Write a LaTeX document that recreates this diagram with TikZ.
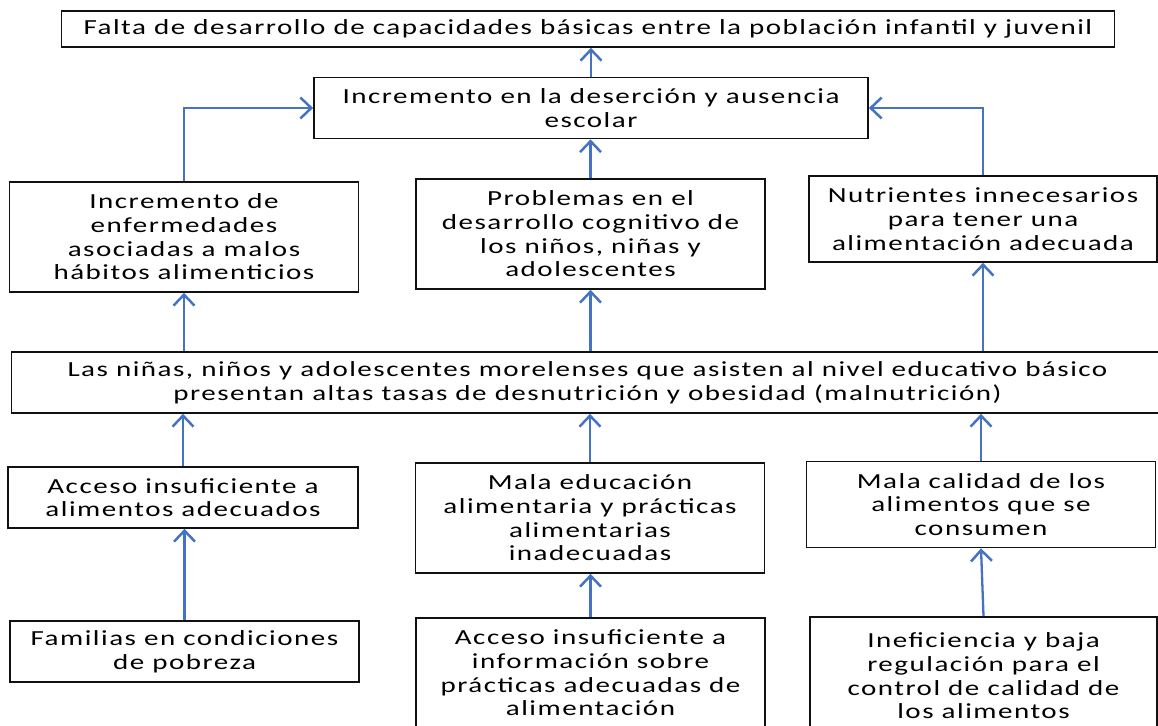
\documentclass[tikz,border=0pt]{standalone}
\usepackage{fontspec}
\setmainfont{Carlito}[FakeStretch=1.35,LetterSpace=7]
\usepackage{tikz}
\usetikzlibrary{arrows.meta,positioning,calc}
\definecolor{Ink}{HTML}{111111}
\definecolor{Azul}{HTML}{4472C4}

\begin{document}
\begin{tikzpicture}[x=1pt,y=-1pt,
    every node/.style={align=center,font=\fontsize{21.5}{23.7}\selectfont},
    caja/.style={draw=Ink,line width=1.7pt,fill=white,inner sep=0pt},
    flecha/.style={-{Straight Barb[length=11pt,width=21pt,line width=2.5pt]},line width=2.3pt,Azul}]
      \useasboundingbox (0,0) rectangle (1158,725);

      % fila superior
      \node[caja,minimum width=1053pt,minimum height=36pt] (falta) at (588,29) {Falta de desarrollo de capacidades básicas entre la población infantil y juvenil};
      \node[caja,minimum width=554pt,minimum height=61pt] (desercion) at (591,108) {Incremento en la deserción y ausencia\\escolar};

      % efectos
      \node[caja,minimum width=349pt,minimum height=110pt] (enfermedades) at (184,237) {Incremento de\\enfermedades\\asociadas a malos\\hábitos alimenticios};
      \node[caja,minimum width=349pt,minimum height=110pt] (cognitivo) at (590.5,234) {Problemas en el\\desarrollo cognitivo de\\los niños, niñas y\\adolescentes};
      \node[caja,minimum width=348pt,minimum height=86pt] (nutrientes) at (983,219) {Nutrientes innecesarios\\para tener una\\alimentación adecuada};

      % problema central
      \node[caja,minimum width=1152pt,minimum height=61pt] (malnutricion) at (587.5,382.5) {Las niñas, niños y adolescentes morelenses que asisten al nivel educativo básico\\presentan altas tasas de desnutrición y obesidad (malnutrición)};

      % causas
      \node[caja,minimum width=350pt,minimum height=61pt] (acceso) at (183,497.5) {Acceso insuficiente a\\alimentos adecuados};
      \node[caja,minimum width=349pt,minimum height=110pt] (educacion) at (590,518) {Mala educación\\alimentaria y prácticas\\alimentarias\\inadecuadas};
      \node[caja,minimum width=349pt,minimum height=86pt] (calidad) at (981,504.5) {Mala calidad de los\\alimentos que se\\consumen};

      \node[caja,minimum width=349pt,minimum height=61pt] (pobreza) at (184.5,651.5) {Familias en condiciones\\de pobreza};
      \node[caja,minimum width=349pt,minimum height=110pt] (informacion) at (590.5,673) {Acceso insuficiente a\\información sobre\\prácticas adecuadas de\\alimentación};
      \node[caja,minimum width=347pt,minimum height=118pt] (ineficiencia) at (983.5,676) {Ineficiencia y baja\\regulación para el\\control de calidad de\\los alimentos};

      % flechas
      \draw[flecha] (desercion.north) -- (desercion.north |- falta.south);
      \draw[flecha] (enfermedades.north) |- (desercion.west);
      \draw[flecha] (cognitivo.north) -- (cognitivo.north |- desercion.south);
      \draw[flecha] (nutrientes.north) |- (desercion.east);

      \draw[flecha] (enfermedades.south |- malnutricion.north) -- (enfermedades.south);
      \draw[flecha] (cognitivo.south |- malnutricion.north) -- (cognitivo.south);
      \draw[flecha] (nutrientes.south |- malnutricion.north) -- (nutrientes.south);

      \draw[flecha] (acceso.north) -- (acceso.north |- malnutricion.south);
      \draw[flecha] (educacion.north) -- (educacion.north |- malnutricion.south);
      \draw[flecha] (calidad.north) -- (calidad.north |- malnutricion.south);

      \draw[flecha] (pobreza.north) -- (pobreza.north |- acceso.south);
      \draw[flecha] (informacion.north) -- (informacion.north |- educacion.south);
      \draw[flecha] (ineficiencia.north) -- (calidad.south);
    \end{tikzpicture}
\end{document}
